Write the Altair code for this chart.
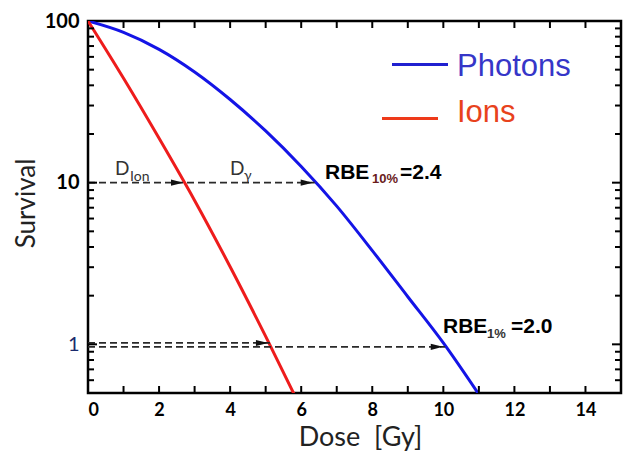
import altair as alt
import pandas as pd

# ---- data ----
photon_dose = [0, 1, 2, 3, 4, 5, 6, 7, 8, 9, 10, 11]
photon_surv = [100, 85.1, 66.8, 48.4, 32.7, 20.9, 12.6, 7.16, 3.80, 1.97, 1.02, 0.49]

ion_dose = [0, 1, 2, 3, 4, 5, 6]
ion_surv = [100, 44.2, 18.8, 7.76, 3.02, 1.12, 0.40]

# dashed reference lines (start dose, end dose, survival level)
ref_start = [0, 0, 0]
ref_end = [6.38, 5.12, 10.05]
ref_level = [10, 1.02, 0.965]

# arrow tips (dose, survival)
arrow_dose = [2.68, 6.33, 5.07, 9.99]
arrow_surv = [10, 10, 1.02, 0.965]

x_ticks_labeled = [0, 2, 4, 6, 8, 10, 12, 14]
x_minor = list(range(1, 15))
y_labeled = [1, 10, 100]
y_major_ticks = [1, 10]
y_minor_ticks = [0.6, 0.7, 0.8, 0.9, 2, 3, 4, 5, 6, 7, 8, 9, 20, 30, 40, 50, 60, 70, 80, 90]

W, H = 533, 372

xs = alt.Scale(domain=[0, 15], nice=False, zero=False)
ys = alt.Scale(type="log", domain=[0.5, 100], nice=False)

curves = pd.DataFrame({
    "dose": photon_dose + ion_dose,
    "surv": photon_surv + ion_surv,
    "series": ["Photons"] * len(photon_dose) + ["Ions"] * len(ion_dose),
})

refs = pd.DataFrame({"x0": ref_start, "x1": ref_end, "y": ref_level})
arrows = pd.DataFrame({"x": arrow_dose, "y": arrow_surv})

base_x = alt.X("dose:Q", scale=xs, axis=alt.Axis(
    values=x_ticks_labeled, ticks=False, domain=False, grid=False,
    labelFont="Lato", labelFontSize=18, labelFontWeight="bold", labelColor="black",
    labelPadding=8, title="Dose\u00a0\u00a0[Gy]", titleFont="Lato", titleFontSize=27,
    titleFontWeight="normal", titleColor="#222", titleX=272, titleY=44,
    titleBaseline="middle", titleAlign="center"))
base_y = alt.Y("surv:Q", scale=ys, axis=alt.Axis(
    values=y_labeled, format="d", ticks=False, domain=False, grid=False,
    labelFont="Lato", labelFontSize=20,
    labelFontWeight={"condition": {"test": "datum.value == 1", "value": "normal"}, "value": "bold"},
    labelColor={"condition": {"test": "datum.value == 1", "value": "#1a2a6c"}, "value": "black"},
    labelPadding=9, title="Survival", titleFont="Lato", titleFontSize=26,
    titleFontWeight="normal", titleColor="#222", titleX=-62, titleY=182,
    titleBaseline="middle", titleAlign="center", titleAngle=270))

lines = alt.Chart(curves).mark_line(strokeWidth=3, clip=True, interpolate="monotone").encode(
    x=base_x, y=base_y,
    color=alt.Color("series:N", scale=alt.Scale(domain=["Photons", "Ions"], range=["#1414e6", "#ee1c1c"]), legend=None),
    order=alt.Order("dose:Q"),
)

dashes = alt.Chart(refs).mark_rule(strokeDash=[7, 4], strokeWidth=1.8, color="#2a2a2a").encode(
    x=alt.X("x0:Q", scale=xs), x2="x1:Q", y=alt.Y("y:Q", scale=ys))

heads = alt.Chart(arrows).mark_point(
    shape="M 0 0 L -1 -0.25 L -1 0.25 Z", filled=True, color="#111", opacity=1, size=600
).encode(x=alt.X("x:Q", scale=xs), y=alt.Y("y:Q", scale=ys))

def tick_layer(vals, field_is_x, length, side):
    df = pd.DataFrame({"v": vals})
    m = alt.Chart(df).mark_rule(color="black", strokeWidth=2)
    if field_is_x:
        if side == "bottom":
            return m.encode(x=alt.X("v:Q", scale=xs), y=alt.value(H), y2=alt.value(H - length))
        return m.encode(x=alt.X("v:Q", scale=xs), y=alt.value(0), y2=alt.value(length))
    if side == "left":
        return m.encode(y=alt.Y("v:Q", scale=ys), x=alt.value(0), x2=alt.value(length))
    return m.encode(y=alt.Y("v:Q", scale=ys), x=alt.value(W), x2=alt.value(W - length))

ticks = [
    tick_layer(x_minor, True, 7, "bottom"),
    tick_layer(x_minor, True, 7, "top"),
    tick_layer(y_major_ticks, False, 9, "left"),
    tick_layer(y_minor_ticks, False, 6, "left"),
    tick_layer(y_major_ticks, False, 9, "right"),
    tick_layer(y_minor_ticks, False, 6, "right"),
]

anchor = pd.DataFrame({"a": [0]})

def label(text, x, y, size, color="black", weight="normal", font="Liberation Sans"):
    return alt.Chart(anchor).mark_text(
        text=text, fontSize=size, color=color, fontWeight=weight, font=font,
        align="left", baseline="alphabetic"
    ).encode(x=alt.value(x), y=alt.value(y))

def seg(x1, x2, y, color):
    return alt.Chart(anchor).mark_rule(color=color, strokeWidth=3).encode(
        x=alt.value(x1), x2=alt.value(x2), y=alt.value(y))

texts = [
    seg(304, 360, 43.5, "#2020d0"),
    seg(294, 350, 97.5, "#ee3a1a"),
    label("Photons", 369, 55, 31, "#3636c8"),
    label("Ions", 369, 100.5, 31, "#e8421c"),
    label("RBE", 237, 158, 21, weight="bold"),
    label("10%", 284, 162, 13, "#6a1b1b", "bold"),
    label("=2.4", 312, 158, 21, weight="bold"),
    label("RBE", 355, 312, 21, weight="bold"),
    label("1%", 399, 316.5, 13, "#333", "bold"),
    label("=2.0", 423, 312, 21, weight="bold"),
    label("D", 27, 154, 19, "#333", font="Lato"),
    label("Ion", 42, 160, 14, "#333", font="Lato"),
    label("D", 142, 154, 19, "#333", font="Lato"),
    label("γ", 156, 159, 14, "#333", font="Lato"),
]

chart = alt.layer(lines, dashes, heads, *ticks, *texts).properties(
    width=W, height=H,
    autosize=alt.AutoSizeParams(type="none"),
    padding={"left": 88, "top": 21, "right": 5, "bottom": 65},
    background="white",
).configure_view(stroke="black", strokeWidth=2.5)

chart.save("out.html", embed_options={"renderer": "svg", "actions": False})
